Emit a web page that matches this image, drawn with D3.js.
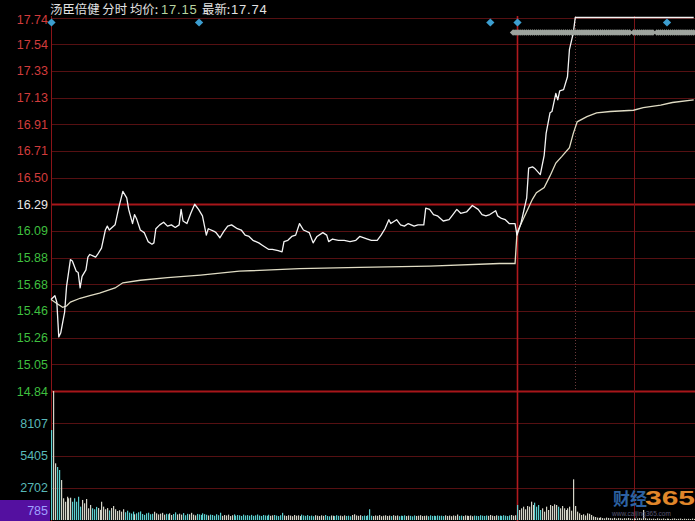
<!DOCTYPE html>
<html><head><meta charset="utf-8">
<script src="https://cdn.jsdelivr.net/npm/d3@7"></script>
<style>html,body{margin:0;padding:0;background:#000;overflow:hidden}svg{display:block}</style>
</head><body><svg id="c" width="695" height="521"></svg>
<script>
// ---------------- data ----------------
const stockName = "汤臣倍健";
const viewName = "分时";
const avgPriceLabel = "17.15";
const lastPriceLabel = "17.74";
const preClose = 16.29;
const priceTickLabels = ["14.84","15.05","15.26","15.46","15.68","15.88","16.09","16.29","16.50","16.71","16.91","17.13","17.33","17.54","17.74"];
const priceLow = 14.84, priceHigh = 17.74;
const volTickValues = [2702, 5405, 8107];
const volTickLabels = ["2702", "5405", "8107"];
const volMax = 10810;
const currentVolLabel = "785";

const priceMinutes = [0,2,3,4,5,6,7,8,10,11,13,14,15,16,18,19,20,23,24,26,28,29,30,33,35,37,39,40,42,43,44,46,48,50,52,53,54,56,58,60,62,64,66,67,68,70,72,74,76,78,80,81,84,85,87,89,91,93,96,98,100,102,104,107,109,112,114,117,119,120,122,124,126,128,130,133,135,137,140,142,143,145,148,151,154,157,159,163,165,168,170,172,174,175,178,180,182,184,187,189,192,193,195,197,199,202,205,207,209,211,214,217,220,222,224,226,229,230,232,234,236,237,239,
  240,242,245,246,248,249,252,254,255,257,258,260,261,262,264,266,267,269,270,331];
const priceValues = [15.55,15.58,15.53,15.26,15.29,15.37,15.45,15.65,15.86,15.85,15.77,15.76,15.64,15.73,15.78,15.88,15.90,15.88,15.90,15.95,16.09,16.12,16.09,16.13,16.27,16.39,16.34,16.25,16.14,16.21,16.18,16.09,16.07,16.00,15.98,15.99,16.10,16.13,16.15,16.12,16.13,16.11,16.13,16.25,16.16,16.14,16.22,16.29,16.25,16.20,16.05,16.10,16.08,16.07,16.03,16.08,16.12,16.13,16.10,16.09,16.05,16.04,16.01,15.99,15.97,15.94,15.94,15.93,15.92,16.00,16.01,16.04,16.05,16.14,16.09,16.07,15.99,16.04,16.07,16.05,16.00,16.02,16.01,16.01,16.00,16.01,16.04,16.02,16.01,16.01,16.05,16.10,16.17,16.14,16.17,16.13,16.12,16.14,16.12,16.13,16.13,16.26,16.25,16.21,16.20,16.16,16.17,16.21,16.25,16.22,16.23,16.28,16.25,16.21,16.20,16.21,16.24,16.20,16.18,16.17,16.14,16.14,16.14,
  16.05,16.14,16.34,16.57,16.58,16.57,16.52,16.67,16.84,17.00,17.01,17.15,17.10,17.17,17.18,17.28,17.49,17.62,17.74,17.74];

const avgMinutes = [0,3,6,8,10,15,20,25,33,37,46,60,77,97,128,159,195,231,239,
  240,244,248,250,254,257,260,263,267,269,271,276,281,288,300,305,314,320,331];
const avgValues = [15.55,15.52,15.49,15.50,15.53,15.56,15.58,15.60,15.64,15.68,15.70,15.72,15.74,15.77,15.79,15.80,15.81,15.83,15.83,
  16.07,16.20,16.33,16.38,16.42,16.51,16.61,16.66,16.73,16.84,16.93,16.97,17.00,17.01,17.02,17.04,17.06,17.08,17.10];

const volumesDay1 = [
  7540,10810,4750,4440,4190,3350,1820,1530,1950,1820,1870,1530,1820,1530,1950,1120,1680,1400,1760,
  980,1260,980,900,1100,1000,850,1530,1120,900,1000,800,1000,1170,900,750,820,700,900,650,780,
  620,540,700,480,560,650,720,500,430,560,610,480,520,690,560,470,530,600,450,520,480,560,420,500,640,470,530,450,580,400,520,480,600,450,390,510,470,430,560,490,440,
  380,450,420,360,480,400,610,350,420,380,450,330,400,470,360,420,390,340,450,380,410,360,430,350,390,460,370,340,420,380,360,440,350,390,420,370,330,400,600,380,
  340,400,370,320,420,360,390,330,450,380,350,410,340,370,320,400,360,330,390,350,420,340,310,380,360,330,400,350,370,320,390,340,360,310,420,480,380,350,400,330,
  370,340,390,900,360,330,380,350,410,320,360,390,340,370,330,400,350,380,320,360,340,390,330,370,350,310,380,340,360,400,330,350,370,320,390,340,360,330,380,350,
  360,330,390,340,370,320,380,350,460,340,370,330,390,360,340,380,320,370,350,330,400,360,340,380,350,420,360,330,390,350,370,340,400,360,330,380,420,360,400];
const volumesDay2 = [
  1257,838,978,1117,894,1173,1117,1536,1257,1452,1117,1257,838,978,698,1117,838,1257,1173,1313,1257,1117,978,1173,978,838,978,1117,782,
  3408,
  1173,698,560,420,480,380,560,520,420,300,250,200,180,220,160,140,200,170,150,130,180,120,160,140,110,150,130,170,120,100,
  140,110,130,160,120,840,150,110,130,100,120,90,140,110,100,130,90,120,100,80,110,130,90,100,120,80,110,90,100,80,120,90];

const eventMinutes = [0, 76, 226, 240, 317];
const chainStarts = [238, 300, 312, 318, 323];
const chainEnds   = [298, 310, 317, 322, 331];

const dayDivider = [240];
const hourLines = [300];
const halfHourLines = [270];

// ---------------- drawing ----------------
const W = 695, H = 521;
const svg = d3.select("#c");
svg.append("rect").attr("width", W).attr("height", H).attr("fill", "#000");

const x = d3.scaleLinear().domain([0, 240]).range([51, 517]);
const yP = d3.scaleLinear().domain([priceLow, priceHigh]).range([391, 17.5]);
const yV = d3.scaleLinear().domain([0, volMax]).range([520, 391]);

const priceTickValues = priceTickLabels.map((_, i) => priceLow + i * (priceHigh - priceLow) / (priceTickLabels.length - 1));
const isPre = v => Math.abs(v - preClose) < 0.005;

// horizontal grid
const g = svg.append("g");
priceTickValues.forEach((v, i) => {
  const strong = isPre(v) || i === 0;
  g.append("line").attr("x1", 51).attr("x2", W)
    .attr("y1", Math.round(yP(v)) + 0.5).attr("y2", Math.round(yP(v)) + 0.5)
    .attr("stroke", strong ? "#a8161a" : "#561012").attr("stroke-width", strong ? 2.2 : 1);
});
volTickValues.forEach(v => {
  g.append("line").attr("x1", 51).attr("x2", W)
    .attr("y1", Math.round(yV(v)) + 0.5).attr("y2", Math.round(yV(v)) + 0.5)
    .attr("stroke", "#561012").attr("stroke-width", 1);
});
// vertical grid
g.append("line").attr("x1", 51.5).attr("x2", 51.5).attr("y1", 16).attr("y2", H).attr("stroke", "#8a1418").attr("stroke-width", 1);
dayDivider.forEach(m => g.append("line").attr("x1", Math.round(x(m)) + 0.5).attr("x2", Math.round(x(m)) + 0.5)
  .attr("y1", 16).attr("y2", H).attr("stroke", "#b01a1e").attr("stroke-width", 1.6));
hourLines.forEach(m => g.append("line").attr("x1", Math.round(x(m)) + 0.5).attr("x2", Math.round(x(m)) + 0.5)
  .attr("y1", 16).attr("y2", H).attr("stroke", "#7a1418").attr("stroke-width", 1));
halfHourLines.forEach(m => g.append("line").attr("x1", Math.round(x(m)) + 0.5).attr("x2", Math.round(x(m)) + 0.5)
  .attr("y1", 16).attr("y2", 391).attr("stroke", "#6a3a3a").attr("stroke-width", 1).attr("stroke-dasharray", "1,2"));

// volume bars
const priceAt = d3.scaleLinear().domain(priceMinutes).range(priceValues);
const vols = volumesDay1.concat(volumesDay2);
svg.append("g").selectAll("rect").data(vols).join("rect")
  .attr("x", (d, i) => Math.round(x(i)))
  .attr("width", 1.2)
  .attr("y", d => yV(d))
  .attr("height", d => yV(0) - yV(d))
  .attr("fill", (d, i) => {
    const prev = i === 0 ? preClose : priceAt(i - 1);
    return priceAt(i) >= prev - 1e-9 ? "#d4d4c8" : "#5ccfcf";
  });

// avg line and price line
const avgData = avgMinutes.map((m, i) => [m, avgValues[i]]);
const priceData = priceMinutes.map((m, i) => [m, priceValues[i]]);
const line = d3.line().x(d => x(d[0])).y(d => yP(d[1]));
svg.append("path").datum(avgData).attr("d", line).attr("fill", "none")
  .attr("stroke", "#e0dcc4").attr("stroke-width", 1.3);
svg.append("path").datum(priceData).attr("d", line).attr("fill", "none")
  .attr("stroke", "#f4f4f4").attr("stroke-width", 1.3).attr("stroke-linejoin", "round");

// chain markers (grey diamonds)
const chainMins = [];
chainStarts.forEach((s, k) => { for (let m = s; m <= chainEnds[k]; m++) chainMins.push(m); });
svg.append("g").selectAll("path").data(chainMins).join("path")
  .attr("d", d3.symbol().type(d3.symbolSquare).size(22))
  .attr("transform", d => `translate(${x(d)},32.5) rotate(45)`)
  .attr("fill", "#9ea49e");

// event diamonds
svg.append("g").selectAll("path").data(eventMinutes).join("path")
  .attr("d", d3.symbol().type(d3.symbolSquare).size(34))
  .attr("transform", d => `translate(${x(d) + 0.5},22.5) rotate(45)`)
  .attr("fill", "#3c9ed0");

// axes
const font = "'Liberation Sans', Arial, sans-serif";
const pAxis = d3.axisLeft(yP).tickValues(priceTickValues)
  .tickFormat((d, i) => priceTickLabels[i]).tickSize(0).tickPadding(3);
const pa = svg.append("g").attr("transform", "translate(51,0)").call(pAxis);
pa.select(".domain").remove();
pa.selectAll("text").attr("font-family", font).attr("font-size", 12.5)
  .attr("fill", d => isPre(d) ? "#e8e8e8" : (d > preClose ? "#d23c3c" : "#3fbf3f"));
pa.selectAll("text").filter(d => d === priceTickValues[priceTickValues.length - 1]).attr("y", 2);

const vAxis = d3.axisLeft(yV).tickValues(volTickValues)
  .tickFormat((d, i) => volTickLabels[i]).tickSize(0).tickPadding(3);
const va = svg.append("g").attr("transform", "translate(51,0)").call(vAxis);
va.select(".domain").remove();
va.selectAll("text").attr("font-family", font).attr("font-size", 12.5).attr("fill", "#58b8b8");

// current volume box
svg.append("rect").attr("x", 0).attr("y", 500).attr("width", 50).attr("height", 21).attr("fill", "#5410a0");
svg.append("text").attr("x", 48).attr("y", 515).attr("text-anchor", "end")
  .attr("font-family", font).attr("font-size", 12.5).attr("fill", "#a0a0ff").text(currentVolLabel);

// header
const cjk = "'Noto Sans CJK SC', 'Noto Sans', sans-serif";
svg.append("text").attr("x", 50).attr("y", 13.5).attr("font-family", cjk).attr("font-size", 12.4)
  .attr("fill", "#e2e2e2").text(stockName + " " + viewName + " 均价:");
svg.append("text").attr("x", 161).attr("y", 13.5).attr("font-family", font).attr("font-size", 13)
  .attr("letter-spacing", 0.8).attr("fill", "#b8d4a0").text(avgPriceLabel);
svg.append("text").attr("x", 202).attr("y", 13.5).attr("font-family", cjk).attr("font-size", 12.4)
  .attr("fill", "#e2e2e2").text("最新:");
svg.append("text").attr("x", 231).attr("y", 13.5).attr("font-family", font).attr("font-size", 13)
  .attr("letter-spacing", 0.8).attr("fill", "#e2e2e2").text(lastPriceLabel);

// watermark
svg.append("text").attr("x", 613).attr("y", 505).attr("font-family", cjk).attr("font-weight", "bold")
  .attr("font-size", 17).attr("fill", "#2d62a2").text("财经");
svg.append("text").attr("x", 645).attr("y", 505).attr("font-family", font).attr("font-weight", "bold")
  .attr("font-size", 21).attr("textLength", 50).attr("lengthAdjust", "spacingAndGlyphs")
  .attr("fill", "#e0862a").text("365");
svg.append("text").attr("x", 612).attr("y", 516).attr("font-family", font).attr("font-size", 6.5)
  .attr("fill", "#6c6c90").attr("opacity", 0.8).text("www.caijing365.com");
</script>
</body></html>
